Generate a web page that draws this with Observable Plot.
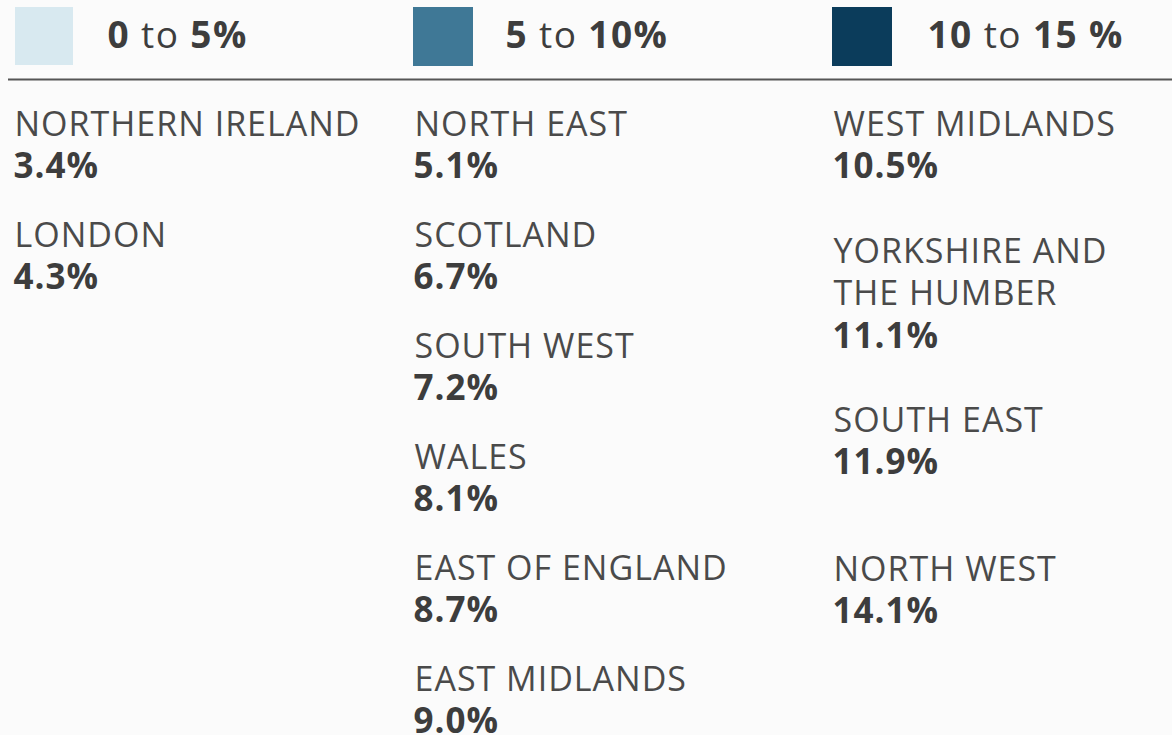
<!DOCTYPE html>
<html><head><meta charset="utf-8">
<script src="https://cdn.jsdelivr.net/npm/d3@7"></script>
<script src="https://cdn.jsdelivr.net/npm/@observablehq/plot@0.6"></script>
<style>
html,body{margin:0;padding:0;background:#fbfbfb;}
#chart svg{display:block;}
g.legend-text text{letter-spacing:1.4px;}
g.label-text text{letter-spacing:1px;}
g.value-text text{letter-spacing:1px;}
</style></head><body><div id="chart"></div>
<script>
// ---- data ----
const bins = ["0 to 5%", "5 to 10%", "10 to 15 %"];
const binLow = ["0", "5", "10"];
const binHigh = ["5%", "10%", "15 %"];
const binColors = ["#d8e9f0", "#3f7896", "#0b3c5b"];
const regions = ["NORTHERN IRELAND", "LONDON", "NORTH EAST", "SCOTLAND", "SOUTH WEST", "WALES",
  "EAST OF ENGLAND", "EAST MIDLANDS", "WEST MIDLANDS", "YORKSHIRE AND THE HUMBER", "SOUTH EAST", "NORTH WEST"];
const rates = [3.4, 4.3, 5.1, 6.7, 7.2, 8.1, 8.7, 9.0, 10.5, 11.1, 11.9, 14.1];

// ---- layout ----
const W = 1172, H = 735;
const FONT = "Open Sans";
const fs = 34, fsValue = 35, fsLegend = 37, lineH = 42.5, blockGap = 26;
const colLeft = [14, 414, 833];
const colMaxWidth = [390, 400, 330];
const firstBaseline = 135;
const extraGap = [[0, 0], [0, 0, 0, 0, 0, 0], [16, 15.5, 38, 0]];
const swatchLeft = [15, 413, 832];
const swatchSize = 58, swatchTop = 7, legendTextOffset = 93, legendBaseline = 47, ruleY = 79;

const ctx = document.createElement("canvas").getContext("2d");
ctx.font = `400 ${fs}px "${FONT}"`;
function wrap(s, maxW) {
  const words = s.split(" "); const out = []; let cur = "";
  for (const w of words) {
    const t = cur ? cur + " " + w : w;
    if (cur && ctx.measureText(t).width > maxW) { out.push(cur); cur = w; } else cur = t;
  }
  if (cur) out.push(cur);
  return out;
}

const binOf = r => Math.min(bins.length - 1, Math.floor(r / 5));
const textRows = [];
const counters = bins.map(() => ({y: firstBaseline, i: 0}));
regions.forEach((name, k) => {
  const b = binOf(rates[k]);
  const c = counters[b];
  const lines = wrap(name, colMaxWidth[b]);
  let y = c.y;
  for (const l of lines) { textRows.push({bin: bins[b], x: colLeft[b], y, text: l, kind: "label"}); y += lineH; }
  textRows.push({bin: bins[b], x: colLeft[b] - 1, y, text: rates[k].toFixed(1) + "%", kind: "value"});
  c.y = y + lineH + blockGap + (extraGap[b][c.i] || 0);
  c.i++;
});

const legendRows = bins.map((b, i) => ({bin: b, idx: i, x1: swatchLeft[i], y1: swatchTop}));

const chart = Plot.plot({
  width: W, height: H,
  margin: 0,
  style: {background: "#fbfbfb", fontFamily: FONT},
  x: {type: "linear", domain: [0, W], range: [0, W], axis: null},
  y: {type: "linear", domain: [0, H], range: [0, H], axis: null},
  color: {type: "ordinal", domain: bins, range: binColors},
  marks: [
    Plot.rect(legendRows, {x1: "x1", x2: d => d.x1 + swatchSize + (d.idx ? 2 : 0), y1: "y1", y2: d => d.y1 + swatchSize + (d.idx ? 1 : 0), fill: "bin"}),
    Plot.text(legendRows, {x: d => d.x1 + legendTextOffset + (d.idx === 2 ? 3 : 0) - 1, y: () => legendBaseline, text: "bin",
      textAnchor: "start", lineAnchor: "bottom", fontSize: fsLegend, fill: "#3d3d3d", className: "legend-text"}),
    Plot.ruleY([ruleY], {x1: 8, x2: W, stroke: "#555", strokeWidth: 2}),
    Plot.text(textRows.filter(d => d.kind === "label"), {x: "x", y: "y", text: "text",
      textAnchor: "start", lineAnchor: "bottom", fontSize: fs, fill: "#4a4a4a", fontWeight: 400, className: "label-text"}),
    Plot.text(textRows.filter(d => d.kind === "value"), {x: "x", y: "y", text: "text",
      textAnchor: "start", lineAnchor: "bottom", fontSize: fsValue, fill: "#3d3d3d", fontWeight: 700, className: "value-text"})
  ]
});
document.getElementById("chart").appendChild(chart);

// mixed-weight legend labels: bold bounds, regular "to"
chart.querySelectorAll("g.legend-text text").forEach((t, i) => {
  t.textContent = "";
  const ns = "http://www.w3.org/2000/svg";
  const parts = [[binLow[i], 700], [" to ", 400], [binHigh[i], 700]];
  for (const [s, w] of parts) {
    const ts = document.createElementNS(ns, "tspan");
    ts.setAttribute("font-weight", w);
    ts.textContent = s;
    t.appendChild(ts);
  }
  t.setAttribute("style", "white-space:pre");
});
</script></body></html>
